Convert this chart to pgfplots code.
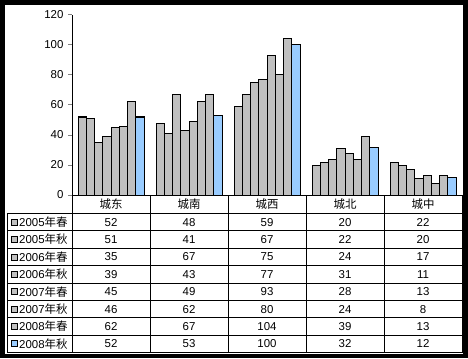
\documentclass[border=0pt]{standalone}
\usepackage{pgfplots}
\usepackage{pgfplotstable}
\pgfplotsset{compat=1.18}
\usepackage{fontspec}
\setmainfont{Liberation Sans}
\newfontfamily\cjk{Noto Sans CJK SC}
\definecolor{bargray}{HTML}{C0C0C0}
\definecolor{barblue}{HTML}{99CCFF}
\pgfplotstableread{
cat s1 s2 s3 s4 s5 s6 s7 s8
0 52 51 35 39 45 46 62 52
1 48 41 67 43 49 62 67 53
2 59 67 75 77 93 80 104 100
3 20 22 24 31 28 24 39 32
4 22 20 17 11 13 8 13 12
}\datatable
\newcommand{\tfont}{\fontsize{11.5}{13}\selectfont}
\begin{document}
\begin{tikzpicture}[x=1bp,y=1bp]
\fill[black] (0,0) rectangle (468,358);
\fill[white] (5,4) rectangle (463,353);
\begin{axis}[
  at={(72bp,163bp)}, anchor=south west,
  scale only axis, width=390bp, height=180bp,
  xmin=-0.5, xmax=4.5, ymin=0, ymax=120,
  axis lines*=left,
  xtick=\empty,
  ytick={0,20,...,120},
  tick align=outside, major tick length=4bp,
  ytick style={line width=1bp},
  axis line style={line width=1bp},
  yticklabel style={font=\tfont, xshift=-1bp},
  /pgf/number format/assume math mode=true,
  ybar=0pt, bar width=8.25bp,
  clip=false,
]
\foreach \k in {1,...,7}{
  \addplot[fill=bargray, draw=black, line width=1bp] table[x=cat,y=s\k]{\datatable};
}
\addplot[fill=barblue, draw=black, line width=1bp] table[x=cat,y=s8]{\datatable};
\end{axis}
% data table
\begin{scope}[line width=1bp]
\foreach \r in {0,...,8}{
  \draw (7,{358-213.5-17.375*\r}) -- (462,{358-213.5-17.375*\r});
}
\draw (7,{358-213.5}) -- (7,{358-352.5});
\foreach \c in {0,...,5}{
  \draw ({72+78*\c},163) -- ({72+78*\c},{358-352.5});
}
\end{scope}
\foreach \name [count=\i from 0] in {城东,城南,城西,城北,城中}{
  \node[font=\fontsize{11.5}{13}\cjk] at ({72+78*\i+39},{358-204.5}) {\name};
}
\foreach \j in {1,...,8}{
  \pgfmathsetmacro{\yy}{358-213.5-17.375*(\j-0.5)}
  \ifnum\j=8
    \filldraw[fill=barblue, draw=black, line width=0.7bp] (11,\yy-3) rectangle (17,\yy+3);
  \else
    \filldraw[fill=bargray, draw=black, line width=0.7bp] (11,\yy-3) rectangle (17,\yy+3);
  \fi
}
\node[anchor=west, inner sep=0pt, font=\tfont] at (19,{358-213.5-17.375*0.5}) {2005{\cjk 年春}};
\node[anchor=west, inner sep=0pt, font=\tfont] at (19,{358-213.5-17.375*1.5}) {2005{\cjk 年秋}};
\node[anchor=west, inner sep=0pt, font=\tfont] at (19,{358-213.5-17.375*2.5}) {2006{\cjk 年春}};
\node[anchor=west, inner sep=0pt, font=\tfont] at (19,{358-213.5-17.375*3.5}) {2006{\cjk 年秋}};
\node[anchor=west, inner sep=0pt, font=\tfont] at (19,{358-213.5-17.375*4.5}) {2007{\cjk 年春}};
\node[anchor=west, inner sep=0pt, font=\tfont] at (19,{358-213.5-17.375*5.5}) {2007{\cjk 年秋}};
\node[anchor=west, inner sep=0pt, font=\tfont] at (19,{358-213.5-17.375*6.5}) {2008{\cjk 年春}};
\node[anchor=west, inner sep=0pt, font=\tfont] at (19,{358-213.5-17.375*7.5}) {2008{\cjk 年秋}};
\foreach \i in {0,...,4}{
  \foreach \j in {1,...,8}{
    \pgfplotstablegetelem{\i}{s\j}\of\datatable
    \node[font=\tfont] at ({72+78*\i+39},{358-213.5-17.375*(\j-0.5)}) {\pgfplotsretval};
  }
}
\end{tikzpicture}
\end{document}
